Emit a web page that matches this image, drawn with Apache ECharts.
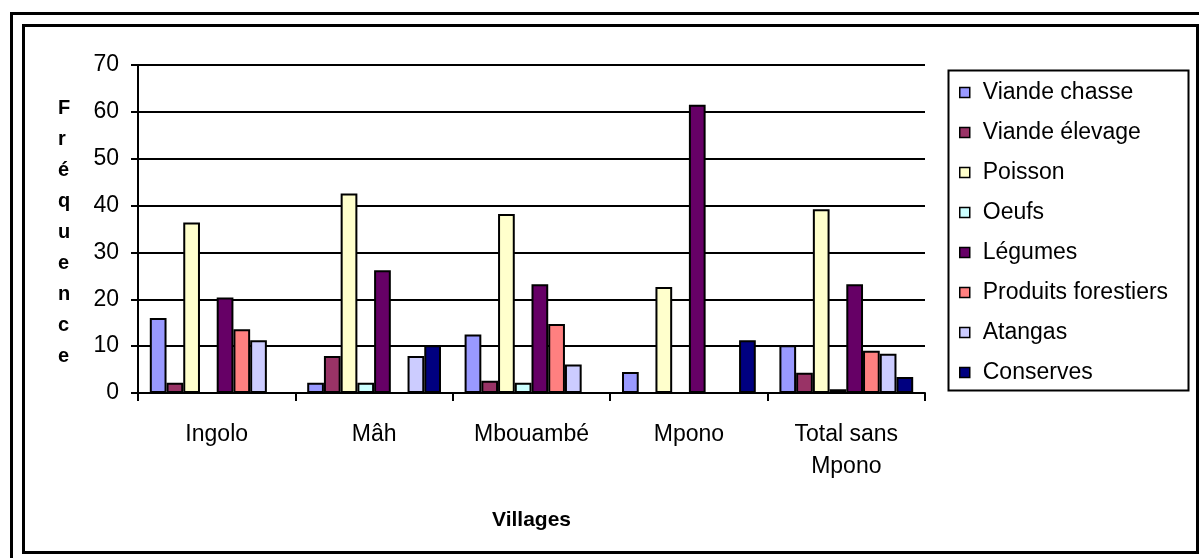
<!DOCTYPE html>
<html>
<head>
<meta charset="utf-8">
<script src="https://cdn.jsdelivr.net/npm/echarts@6/dist/echarts.min.js"></script>
<style>
html,body{margin:0;padding:0;background:#fff;}
#chart{width:1199px;height:558px;}
</style>
</head>
<body>
<div id="chart"></div>
<script>
var categories = ['Ingolo', 'Mâh', 'Mbouambé', 'Mpono', 'Total sans\nMpono'];
var seriesNames = ['Viande chasse', 'Viande élevage', 'Poisson', 'Oeufs', 'Légumes', 'Produits forestiers', 'Atangas', 'Conserves'];
var viandeChasse = [16, 2.2, 12.5, 4.5, 10.2];
var viandeElevage = [2.2, 7.9, 2.6, 0, 4.3];
var poisson = [36.4, 42.6, 38.2, 22.6, 39.2];
var oeufs = [0, 2.2, 2.2, 0, 0.8];
var legumes = [20.4, 26.2, 23.2, 61.5, 23.2];
var produitsForestiers = [13.6, 0, 14.7, 0, 9.0];
var atangas = [11.25, 7.9, 6.1, 0, 8.4];
var conserves = [0, 10.2, 0, 11.25, 3.4];
var yTicks = [0, 10, 20, 30, 40, 50, 60, 70];

var colors = ['#9999FF', '#993366', '#FFFFCC', '#CCFFFF', '#660066', '#FF8080', '#CCCCFF', '#000080'];
var allData = [viandeChasse, viandeElevage, poisson, oeufs, legumes, produitsForestiers, atangas, conserves];
var FONT = 'Liberation Sans, Arial, sans-serif';

var series = seriesNames.map(function (n, i) {
  return {
    name: n,
    type: 'bar',
    data: allData[i],
    barGap: '0%',
    barCategoryGap: '15%',
    itemStyle: { color: colors[i], borderColor: '#000', borderWidth: 2 },
    emphasis: { disabled: true }
  };
});

var chart = echarts.init(document.getElementById('chart'), null, { renderer: 'canvas' });
chart.setOption({
  animation: false,
  backgroundColor: '#fff',
  grid: { left: 138, right: 274, top: 65, bottom: 165, containLabel: false },
  xAxis: {
    type: 'category',
    data: categories,
    axisLine: { lineStyle: { color: '#000', width: 2 } },
    axisTick: { show: true, length: 8, lineStyle: { color: '#000', width: 2 } },
    axisLabel: { color: '#000', fontSize: 23, fontFamily: FONT, margin: 26, lineHeight: 32, interval: 0 },
    name: 'Villages',
    nameLocation: 'middle',
    nameGap: 117,
    nameTextStyle: { color: '#000', fontSize: 21, fontWeight: 'bold', fontFamily: FONT }
  },
  yAxis: {
    type: 'value',
    min: yTicks[0],
    max: yTicks[yTicks.length - 1],
    interval: 10,
    axisLine: { show: true, lineStyle: { color: '#000', width: 2 } },
    axisTick: { show: true, length: 7, lineStyle: { color: '#000', width: 2 } },
    axisLabel: { color: '#000', fontSize: 23, fontFamily: FONT, margin: 19 },
    splitLine: { show: true, lineStyle: { color: '#000', width: 2 } }
  },
  legend: {
    orient: 'vertical',
    left: 959,
    top: 81,
    padding: 0,
    itemWidth: 10,
    itemHeight: 10,
    itemGap: 17,
    icon: 'rect',
    selectedMode: false,
    itemStyle: { borderColor: '#000', borderWidth: 1.5 },
    textStyle: { color: '#000', fontSize: 23, lineHeight: 22, fontFamily: FONT, padding: [0, 0, 0, 8] },
    data: seriesNames
  },
  graphic: [
    { type: 'rect', shape: { x: 10, y: 12, width: 1189, height: 3 }, style: { fill: '#000' }, silent: true },
    { type: 'rect', shape: { x: 10, y: 12, width: 3, height: 546 }, style: { fill: '#000' }, silent: true },
    { type: 'rect', shape: { x: 23.5, y: 25.5, width: 1174, height: 527 }, style: { fill: 'none', stroke: '#000', lineWidth: 3 }, silent: true },
    { type: 'rect', shape: { x: 948.5, y: 70.5, width: 240, height: 320 }, style: { fill: 'none', stroke: '#000', lineWidth: 2 }, silent: true },
    { type: 'text', left: 58, top: 93, style: { text: 'F\nr\né\nq\nu\ne\nn\nc\ne', fill: '#000', font: 'bold 20px Liberation Sans, Arial, sans-serif', lineHeight: 31, align: 'center' }, silent: true }
  ],
  series: series
});
</script>
</body>
</html>
